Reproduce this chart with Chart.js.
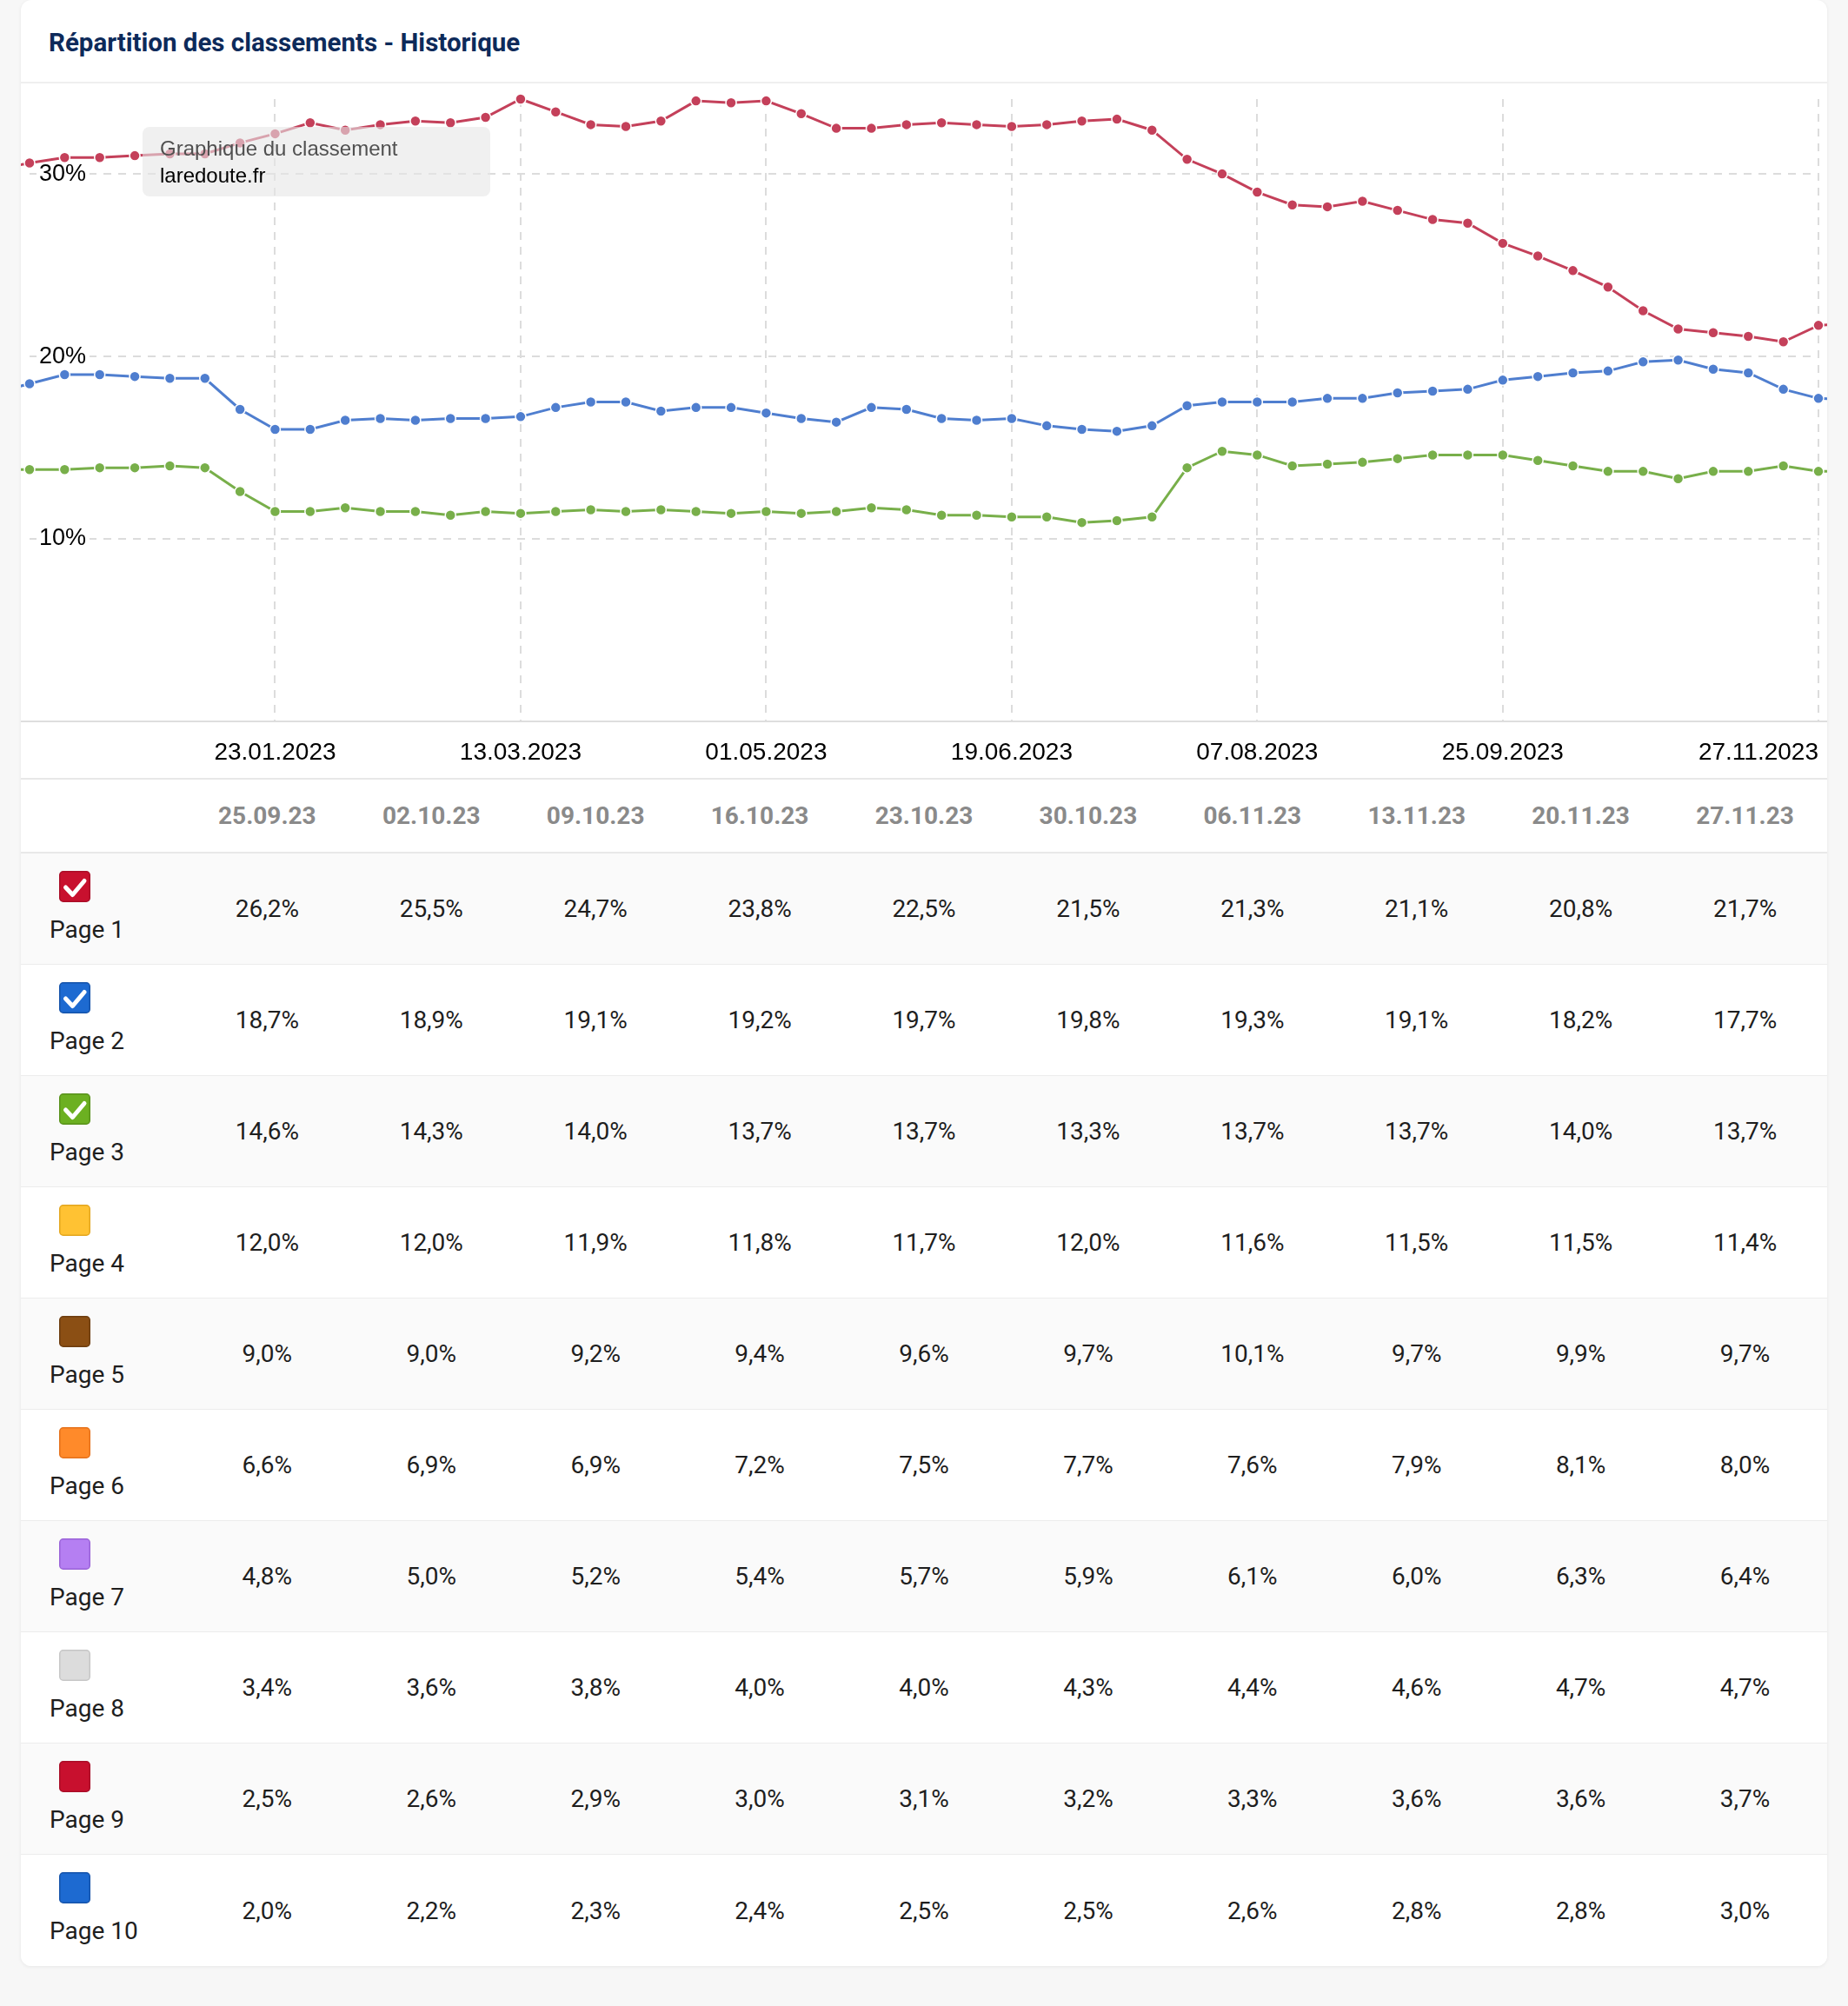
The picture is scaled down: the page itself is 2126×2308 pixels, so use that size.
<!DOCTYPE html>
<html><head><meta charset="utf-8">
<script src="https://cdn.jsdelivr.net/npm/chart.js@4.4.1/dist/chart.umd.min.js"></script>
<style>
html,body{margin:0;padding:0;}
body{width:2126px;height:2308px;background:#f7f7f7;position:relative;overflow:hidden;font-family:Roboto,'Liberation Sans',Arial,sans-serif;}
#card{position:absolute;left:24px;top:0;width:2078px;height:2262px;background:#fff;border-radius:12px;box-shadow:0 1px 4px rgba(0,0,0,0.07);overflow:hidden;}
#title{position:absolute;left:32px;top:32px;line-height:34px;font-size:29.5px;font-weight:700;color:#0d2a5a;white-space:nowrap;}
#sep{position:absolute;left:0;right:0;top:94px;height:2px;background:#efefef;}
#chartWrap{position:absolute;left:0;top:96px;width:2078px;height:800px;}
#chartWrap canvas{display:block;}
#axisLine{position:absolute;left:0;right:0;top:829px;height:2px;background:#dedede;}
#info{position:absolute;left:140px;top:146px;width:400px;height:80px;box-sizing:border-box;padding:9px 20px;border-radius:8px;background:rgba(230,230,230,0.6);font-family:'Liberation Sans',Arial,sans-serif;font-size:24px;line-height:31px;white-space:nowrap;}
#info .l1{color:#505050;}
#info .l2{color:#000;}
.trow{position:absolute;left:0;width:2078px;display:grid;grid-template-columns:repeat(11,1fr);box-sizing:border-box;}
.thead{top:895px;height:87px;border-top:2px solid #e8e8e8;border-bottom:2px solid #e8e8e8;background:#fff;}
.thead div{display:flex;align-items:center;justify-content:center;font-size:28px;font-weight:700;color:#8a8a8a;}
.drow{height:128px;border-bottom:1px solid #ececec;}
.drow .cell{display:flex;align-items:center;justify-content:center;font-size:28px;color:#1e1e1e;}
.drow .lab{position:relative;}
.drow .lab svg{position:absolute;left:44px;top:20px;}
.drow .lab span{position:absolute;left:33px;top:72px;line-height:32px;font-size:28px;color:#1e1e1e;white-space:nowrap;}
</style>
</head>
<body>
<div id="card">
  <div id="title">Répartition des classements - Historique</div>
  <div id="sep"></div>
  <div id="chartWrap"><canvas id="c" width="2078" height="800" style="width:2078px;height:800px"></canvas></div>
  <div id="info"><div class="l1">Graphique du classement</div><div class="l2">laredoute.fr</div></div>
  <div id="axisLine"></div>
  <div id="table"></div>
</div>
<script>
// ---- chart data ----
const weeks = ['28.11.2022','05.12.2022','12.12.2022','19.12.2022','26.12.2022',
 '02.01.2023','09.01.2023','16.01.2023','23.01.2023','30.01.2023','06.02.2023','13.02.2023','20.02.2023','27.02.2023',
 '06.03.2023','13.03.2023','20.03.2023','27.03.2023','03.04.2023','10.04.2023','17.04.2023','24.04.2023',
 '01.05.2023','08.05.2023','15.05.2023','22.05.2023','29.05.2023','05.06.2023','12.06.2023','19.06.2023','26.06.2023',
 '03.07.2023','10.07.2023','17.07.2023','24.07.2023','31.07.2023','07.08.2023','14.08.2023','21.08.2023','28.08.2023',
 '04.09.2023','11.09.2023','18.09.2023','25.09.2023','02.10.2023','09.10.2023','16.10.2023','23.10.2023','30.10.2023',
 '06.11.2023','13.11.2023','20.11.2023','27.11.2023','04.12.2023'];
const firstShownWeek = '05.12.2022';
const lastShownWeek = '27.11.2023';
const xAxisDates = ['23.01.2023','13.03.2023','01.05.2023','19.06.2023','07.08.2023','25.09.2023','27.11.2023'];
const yAxisTicks = [10, 20, 30];

const page1History = [30.2,30.6,30.9,30.9,31.0,31.1,31.1,31.7,32.2,32.8,32.4,32.7,32.9,32.8,33.1,34.1,33.4,32.7,32.6,32.9,
 34.0,33.9,34.0,33.3,32.5,32.5,32.7,32.8,32.7,32.6,32.7,32.9,33.0,32.4,30.8,30.0,29.0,28.3,28.2,28.5,
 28.0,27.5,27.3,26.2,25.5,24.7,23.8,22.5,21.5,21.3,21.1,20.8,21.7,21.8];
const page2History = [18.0,18.5,19.0,19.0,18.9,18.8,18.8,17.1,16.0,16.0,16.5,16.6,16.5,16.6,16.6,16.7,17.2,17.5,17.5,17.0,
 17.2,17.2,16.9,16.6,16.4,17.2,17.1,16.6,16.5,16.6,16.2,16.0,15.9,16.2,17.3,17.5,17.5,17.5,17.7,17.7,
 18.0,18.1,18.2,18.7,18.9,19.1,19.2,19.7,19.8,19.3,19.1,18.2,17.7,17.6];
const page3History = [13.8,13.8,13.8,13.9,13.9,14.0,13.9,12.6,11.5,11.5,11.7,11.5,11.5,11.3,11.5,11.4,11.5,11.6,11.5,11.6,
 11.5,11.4,11.5,11.4,11.5,11.7,11.6,11.3,11.3,11.2,11.2,10.9,11.0,11.2,13.9,14.8,14.6,14.0,14.1,14.2,
 14.4,14.6,14.6,14.6,14.3,14.0,13.7,13.7,13.3,13.7,13.7,14.0,13.7,13.7];

// ---- table data ----
const tableDates = ['25.09.23','02.10.23','09.10.23','16.10.23','23.10.23','30.10.23','06.11.23','13.11.23','20.11.23','27.11.23'];
const pageNames = ['Page 1','Page 2','Page 3','Page 4','Page 5','Page 6','Page 7','Page 8','Page 9','Page 10'];
const page1Table = [26.2,25.5,24.7,23.8,22.5,21.5,21.3,21.1,20.8,21.7];
const page2Table = [18.7,18.9,19.1,19.2,19.7,19.8,19.3,19.1,18.2,17.7];
const page3Table = [14.6,14.3,14.0,13.7,13.7,13.3,13.7,13.7,14.0,13.7];
const page4Table = [12.0,12.0,11.9,11.8,11.7,12.0,11.6,11.5,11.5,11.4];
const page5Table = [9.0,9.0,9.2,9.4,9.6,9.7,10.1,9.7,9.9,9.7];
const page6Table = [6.6,6.9,6.9,7.2,7.5,7.7,7.6,7.9,8.1,8.0];
const page7Table = [4.8,5.0,5.2,5.4,5.7,5.9,6.1,6.0,6.3,6.4];
const page8Table = [3.4,3.6,3.8,4.0,4.0,4.3,4.4,4.6,4.7,4.7];
const page9Table = [2.5,2.6,2.9,3.0,3.1,3.2,3.3,3.6,3.6,3.7];
const page10Table = [2.0,2.2,2.3,2.4,2.5,2.5,2.6,2.8,2.8,3.0];
const pageChecked = [true,true,true,false,false,false,false,false,false,false];

// ---- styles ----
const lineColors = ['#c4405a','#4f7ecf','#78af4a'];
const boxFill = ['#c8102e','#1d6ad1','#6cb021','#ffc233','#8b4f14','#ff8a2a','#b57ff2','#dcdcdc','#c8102e','#1d6ad1'];
const boxStroke = ['#a90d27','#1553aa','#58911a','#e3a61f','#6d3d0f','#e5701a','#9a63d8','#c6c6c6','#a90d27','#1553aa'];

// ---- table ----
const tableValues = [page1Table,page2Table,page3Table,page4Table,page5Table,page6Table,page7Table,page8Table,page9Table,page10Table];
const fmt = v => v.toFixed(1).replace('.', ',') + '%';
const table = document.getElementById('table');
let html = '<div class="trow thead"><div></div>' + tableDates.map(d => '<div>' + d + '</div>').join('') + '</div>';
tableValues.forEach((vals, r) => {
  const bg = r % 2 === 0 ? '#fafafa' : '#ffffff';
  const check = pageChecked[r] ? '<path d="M7.5 19 L15.5 27.5 L29 11.5" fill="none" stroke="#fff" stroke-width="5" stroke-linecap="round" stroke-linejoin="round"/>' : '';
  const svg = '<svg width="36" height="36" viewBox="0 0 36 36"><rect x="0.75" y="0.75" width="34.5" height="34.5" rx="4" fill="' + boxFill[r] + '" stroke="' + boxStroke[r] + '" stroke-width="1.5"/>' + check + '</svg>';
  html += '<div class="trow drow" style="top:' + (982 + r * 128) + 'px;background:' + bg + (r === 9 ? ';border-bottom:none' : '') + '">' +
    '<div class="lab">' + svg + '<span>' + pageNames[r] + '</span></div>' +
    vals.map(v => '<div class="cell">' + fmt(v) + '</div>').join('') + '</div>';
});
table.innerHTML = html;

// ---- chart ----
Chart.defaults.font.family = "'Liberation Sans', Arial, sans-serif";
const seriesList = [page1History, page2History, page3History];
new Chart(document.getElementById('c'), {
  type: 'line',
  data: {
    labels: weeks,
    datasets: seriesList.map((s, i) => ({
      data: s,
      borderColor: lineColors[i],
      backgroundColor: lineColors[i],
      pointBackgroundColor: lineColors[i],
      pointBorderColor: '#ffffff',
      pointBorderWidth: 1.5,
      pointRadius: 6,
      borderWidth: 3,
      tension: 0,
      fill: false,
      clip: false
    }))
  },
  options: {
    responsive: false,
    animation: false,
    events: [],
    layout: { padding: { left: 10, right: 10, top: 18, bottom: 0 } },
    plugins: { legend: { display: false }, tooltip: { enabled: false } },
    scales: {
      x: {
        type: 'category',
        afterDataLimits: s => { s.min = weeks.indexOf(firstShownWeek); s.max = weeks.indexOf(lastShownWeek); },
        afterBuildTicks: s => { s.ticks = s.ticks.filter(t => t.value === s.min || xAxisDates.includes(weeks[t.value])); },
        afterFit: s => { s.height = 66; s.paddingLeft = 0; s.paddingRight = 0; },
        grid: {
          drawTicks: false,
          lineWidth: 2,
          color: c => (c.tick && c.tick.value === c.scale.min) ? 'rgba(0,0,0,0)' : '#dcdcdc'
        },
        border: { display: false, dash: [9, 8] },
        ticks: {
          autoSkip: false, maxRotation: 0, minRotation: 0, align: 'inner', padding: 19,
          color: '#000', font: { size: 28 },
          callback: function (v) { return v === this.min ? '' : weeks[v]; }
        }
      },
      y: {
        min: 0,
        max: Math.max(...page1History),
        afterBuildTicks: s => { s.ticks = s.ticks.filter(t => yAxisTicks.includes(t.value)); },
        afterFit: s => { s.width = 0; s.paddingTop = 0; s.paddingBottom = 0; },
        grid: { drawTicks: false, lineWidth: 2, color: '#dcdcdc' },
        border: { display: false, dash: [9, 8] },
        ticks: {
          stepSize: 10, mirror: true, padding: 11, color: '#000', font: { size: 27 },
          showLabelBackdrop: true, backdropColor: '#ffffff', backdropPadding: { left: 3, right: 4, top: 0, bottom: 0 },
          callback: v => v + '%'
        }
      }
    }
  }
});
</script>
</body></html>
